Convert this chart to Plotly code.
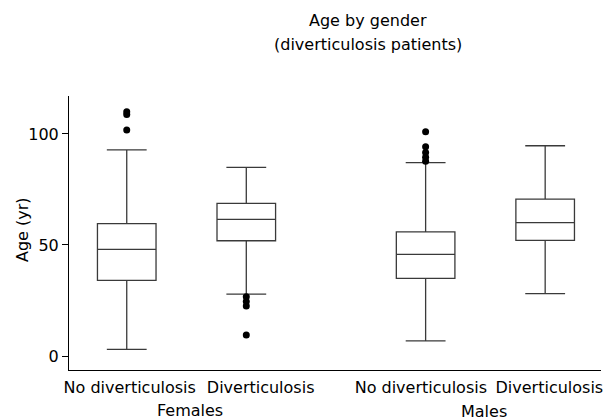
import plotly.graph_objects as go

# Data
positions = [0, 1, 2.5, 3.5]
box_labels = ["No diverticulosis", "Diverticulosis", "No diverticulosis", "Diverticulosis"]
label_positions = [0.025, 1.12, 2.46, 3.535]
groups = ["Females", "Males"]
group_positions = [0.525, 2.99]
title_lines = ["Age by gender", "(diverticulosis patients)"]
y_title = "Age (yr)"
lower_whisker = [3.0, 27.9, 6.8, 28.1]
q1 = [34.1, 51.9, 35.0, 52.1]
median = [48.0, 61.5, 45.8, 60.1]
q3 = [59.6, 68.7, 55.9, 70.7]
upper_whisker = [92.8, 85.0, 87.1, 94.7]
outlier_x = [0, 0, 0, 1, 1, 1, 1, 2.5, 2.5, 2.5, 2.5, 2.5]
outlier_y = [101.8, 108.8, 110.0, 26.7, 24.5, 22.5, 9.5, 101.0, 94.3, 91.6, 89.5, 87.7]

FONT = "DejaVu Sans"

fig = go.Figure()
fig.add_trace(go.Box(
    x=positions, q1=q1, median=median, q3=q3,
    lowerfence=lower_whisker, upperfence=upper_whisker,
    width=0.49, whiskerwidth=0.68,
    fillcolor="white", line=dict(color="#3a3a3a", width=1.3),
    boxpoints=False, showlegend=False, hoverinfo="skip",
))
fig.add_trace(go.Scatter(
    x=outlier_x, y=outlier_y, mode="markers",
    marker=dict(color="black", size=7), showlegend=False, hoverinfo="skip",
))

group_shift = [-29, -30]
for name, gx, sh in zip(groups, group_positions, group_shift):
    fig.add_annotation(x=gx, y=0, xref="x", yref="paper", yanchor="top",
                       yshift=sh, text=name, showarrow=False,
                       font=dict(family=FONT, size=16, color="black"))

for line, sh in zip(title_lines, [76, 52]):
    fig.add_annotation(x=342 / 609, y=1, xref="paper", yref="paper", xanchor="center",
                       yanchor="middle", yshift=sh, text=line, showarrow=False,
                       font=dict(family=FONT, size=16, color="black"))

fig.add_annotation(x=0, y=0.5, xref="paper", yref="paper", xanchor="center",
                   yanchor="middle", xshift=-47, yshift=3, textangle=-90,
                   text=y_title, showarrow=False,
                   font=dict(family=FONT, size=16, color="black"))

fig.update_layout(
    width=609, height=419,
    margin=dict(l=69, r=6, t=96, b=49),
    paper_bgcolor="white", plot_bgcolor="white",
    font=dict(family=FONT, size=16, color="black"),
    xaxis=dict(range=[-0.483, 3.967], tickvals=label_positions, ticktext=box_labels,
               ticks="", showline=True, linecolor="black", linewidth=1,
               showgrid=False, zeroline=False, tickfont=dict(size=16),
               ticklabelstandoff=3),
    yaxis=dict(range=[-6.3, 117.1], tickvals=[0, 50, 100], ticks="outside", ticklen=6,
               tickcolor="black", showline=True, linecolor="black", linewidth=1,
               showgrid=False, zeroline=False),
)

fig.write_html("out.html", config={"displayModeBar": False},
               post_script="document.body.style.margin='0';")
